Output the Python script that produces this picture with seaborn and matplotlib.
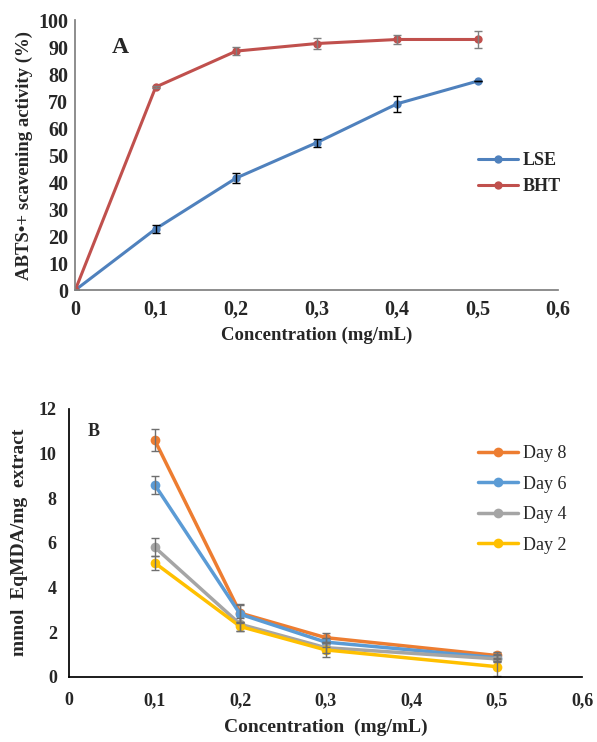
import pandas as pd
import matplotlib.pyplot as plt
import seaborn as sns

# Panel A data
conc_a = [0, 0.1, 0.2, 0.3, 0.4, 0.5]
lse = [0, 22.7, 41.5, 54.6, 69.0, 77.4]
lse_err = [0, 1.5, 2.0, 1.5, 3.0, 0]
bht = [0, 75.2, 88.5, 91.3, 92.8, 92.8]
bht_err = [0, 0.5, 1.5, 2.0, 1.5, 3.0]

# Panel B data
conc_b = [0.1, 0.2, 0.3, 0.5]
days = ['Day 8', 'Day 6', 'Day 4', 'Day 2']
day8 = [10.6, 2.85, 1.75, 0.95]
day8_err = [0.5, 0.4, 0.2, 0.15]
day6 = [8.6, 2.8, 1.55, 0.85]
day6_err = [0.4, 0.4, 0.2, 0.15]
day4 = [5.8, 2.35, 1.3, 0.8]
day4_err = [0.4, 0.3, 0.25, 0.15]
day2 = [5.1, 2.25, 1.2, 0.45]
day2_err = [0.3, 0.2, 0.3, 0.4]

sns.set_theme(style="white")
plt.rcParams['font.family'] = ['Liberation Serif', 'DejaVu Serif']

fig = plt.figure(figsize=(5.97, 7.42), dpi=100)
ax1 = fig.add_axes([0.126, 0.609, 0.809, 0.364])
ax2 = fig.add_axes([0.116, 0.088, 0.859, 0.361])

ticks = [0, 0.1, 0.2, 0.3, 0.4, 0.5, 0.6]
tick_labels = ['0', '0,1', '0,2', '0,3', '0,4', '0,5', '0,6']

# ---- Panel A
df_a = pd.DataFrame({'conc': conc_a * 2, 'val': lse + bht,
                     'grp': ['LSE'] * 6 + ['BHT'] * 6})
pal_a = {'LSE': '#4F81BD', 'BHT': '#C0504D'}
sns.lineplot(data=df_a, x='conc', y='val', hue='grp', palette=pal_a, marker='o',
             markersize=6, markeredgewidth=0, linewidth=2.2, ax=ax1)
ax1.errorbar(conc_a, lse, yerr=lse_err, fmt='none', ecolor='black', elinewidth=1, capsize=3)
ax1.errorbar(conc_a, bht, yerr=bht_err, fmt='none', ecolor='#7f7f7f', elinewidth=1, capsize=3)
ax1.set_xlim(0, 0.6)
ax1.set_ylim(0, 100)
ax1.set_xticks(ticks)
ax1.set_xticklabels(tick_labels)
ax1.set_yticks(range(0, 101, 10))
ax1.set_xlabel('Concentration (mg/mL)', fontsize=13.5, fontweight='bold', labelpad=5)
ax1.set_ylabel('ABTS•+ scavening activity (%)', fontsize=13.5, fontweight='bold', labelpad=4)
ax1.text(0.045, 90, 'A', fontsize=17, fontweight='bold', va='center')
ax1.legend(loc='center left', bbox_to_anchor=(0.8, 0.43), frameon=False,
           prop={'weight': 'bold', 'size': 13}, handlelength=2.2, handletextpad=0.3)
for s in ['top', 'right']:
    ax1.spines[s].set_visible(False)
for s in ['left', 'bottom']:
    ax1.spines[s].set_color('#808080')
ax1.tick_params(axis='both', direction='out', length=4, color='#808080', labelsize=14.5)
ax1.tick_params(axis='y', pad=1)
ax1.tick_params(axis='x', pad=3)
for lbl in ax1.get_xticklabels() + ax1.get_yticklabels():
    lbl.set_fontweight('bold')

# ---- Panel B
df_b = pd.DataFrame({'conc': conc_b * 4, 'val': day8 + day6 + day4 + day2,
                     'day': [d for d in days for _ in conc_b]})
pal_b = {'Day 8': '#ED7D31', 'Day 6': '#5B9BD5', 'Day 4': '#A5A5A5', 'Day 2': '#FFC000'}
sns.lineplot(data=df_b, x='conc', y='val', hue='day', palette=pal_b, marker='o',
             markersize=7, markeredgewidth=0, linewidth=2.5, ax=ax2)
for vals, errs in [(day8, day8_err), (day6, day6_err), (day4, day4_err), (day2, day2_err)]:
    ax2.errorbar(conc_b, vals, yerr=errs, fmt='none', ecolor='#6f6f6f', elinewidth=1, capsize=3)
ax2.set_xlim(0, 0.6)
ax2.set_ylim(0, 12)
ax2.set_xticks(ticks)
ax2.set_xticklabels(tick_labels)
ax2.set_yticks(range(0, 13, 2))
ax2.set_xlabel('Concentration  (mg/mL)', fontsize=14, fontweight='bold', labelpad=7)
ax2.set_ylabel('mmol  EqMDA/mg  extract', fontsize=14, fontweight='bold', labelpad=8)
ax2.text(0.022, 11.0, 'B', fontsize=13, fontweight='bold', va='center')
ax2.legend(loc='upper left', bbox_to_anchor=(0.765, 0.925), frameon=False,
           prop={'size': 13}, handlelength=2.2, handletextpad=0.3, labelspacing=0.75)
for s in ['top', 'right']:
    ax2.spines[s].set_visible(False)
for s in ['left', 'bottom']:
    ax2.spines[s].set_color('black')
ax2.tick_params(axis='both', direction='out', length=4, color='black', labelsize=13)
ax2.tick_params(axis='y', pad=5)
ax2.tick_params(axis='x', pad=7)
for lbl in ax2.get_xticklabels() + ax2.get_yticklabels():
    lbl.set_fontweight('bold')

fig.savefig('out.png', dpi=100)
